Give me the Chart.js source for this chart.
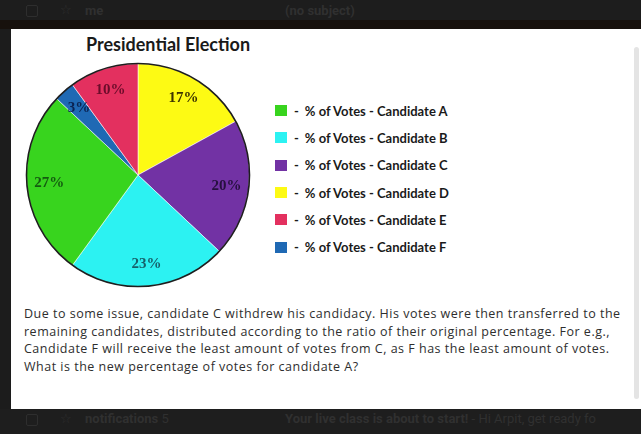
<!DOCTYPE html>
<html>
<head>
<meta charset="utf-8">
<script src="https://cdn.jsdelivr.net/npm/chart.js@4.4.1/dist/chart.umd.min.js"></script>
<style>
  html, body { margin: 0; padding: 0; }
  body { width: 641px; height: 434px; background: #1c1c1c; position: relative; overflow: hidden; font-family: "Open Sans", sans-serif; }
  .topbar { position: absolute; left: 0; top: 0; width: 641px; height: 20px; background: #1d1d1d; }
  .strip { position: absolute; left: 0; top: 20px; width: 641px; height: 9px; background: #17110d; }
  .bottombar { position: absolute; left: 0; top: 409px; width: 641px; height: 25px; background: #1e1e1e; }
  .faint { position: absolute; font-family: Roboto, sans-serif; font-weight: bold; font-size: 13px; color: #303030; white-space: nowrap; }
  .chk { position: absolute; width: 10px; height: 10px; border: 1.5px solid #2e2e2e; border-radius: 2px; }
  .card { position: absolute; left: 11px; top: 29px; width: 630px; height: 380px; background: #fff; }
  .scroll { position: absolute; left: 634px; top: 47px; width: 5px; height: 352px; background: #e4e4e4; border-radius: 3px; }
  .title { position: absolute; left: 86px; top: 33px; font-family: Lato, sans-serif; font-weight: bold; font-size: 18px; color: #1a1a1a; white-space: nowrap; }
  #wrap { position: absolute; left: 25px; top: 62px; width: 226px; height: 226px; }
  #legend { position: absolute; left: 275px; top: 97px; }
  .item { height: 27.3px; display: flex; align-items: center; font-family: Lato, sans-serif; font-weight: bold; font-size: 13px; color: #1a1a1a; white-space: nowrap; }
  .box { width: 12px; height: 11px; margin-right: 7px; }
  .dash { margin-right: 6px; }
  .para { position: absolute; left: 24px; top: 305px; font-size: 12.5px; line-height: 17.5px; color: #2e2e2e; white-space: nowrap; letter-spacing: 0.5px; }
</style>
</head>
<body>
<div class="topbar"></div>
<div class="chk" style="left:26px;top:5px"></div>
<div class="faint" style="left:60px;top:2px;font-weight:normal">☆</div>
<div class="faint" style="left:85px;top:3px">me</div>
<div class="faint" style="left:285px;top:3px">(no subject)</div>
<div class="strip"></div>
<div class="card"></div>
<div class="scroll"></div>
<div class="title">Presidential Election</div>
<div id="wrap"><canvas id="myChart"></canvas></div>
<div id="legend"></div>
<div class="para" id="para"></div>
<div class="bottombar"></div>
<div class="chk" style="left:26px;top:414px"></div>
<div class="faint" style="left:60px;top:411px;font-weight:normal">☆</div>
<div class="faint" style="left:85px;top:411px">notifications <span style="font-weight:normal">5</span></div>
<div class="faint" style="left:285px;top:411px">Your live class is about to start! <span style="font-weight:normal">- Hi Arpit, get ready fo</span></div>
<script>
// pie order, clockwise from the top
const candidates = ["Candidate D", "Candidate C", "Candidate B", "Candidate A", "Candidate F", "Candidate E"];
const votes = [17, 20, 23, 27, 3, 10];
const sliceColors = ["#fdfa14", "#7232a4", "#2cf2f2", "#38d41e", "#1f69b4", "#e3305f"];
const labelColors = ["#3b3300", "#26103f", "#17606a", "#145a10", "#0b2352", "#6b0c2a"];

const legendPrefix = "% of Votes - ";
const paraLines = [
  "Due to some issue, candidate C withdrew his candidacy. His votes were then transferred to the",
  "remaining candidates, distributed according to the ratio of their original percentage. For e.g.,",
  "Candidate F will receive the least amount of votes from C, as F has the least amount of votes.",
  "What is the new percentage of votes for candidate A?"
];

document.getElementById("para").innerHTML = paraLines.join("<br>");

// legend A..F
const legend = document.getElementById("legend");
candidates
  .map((c, i) => ({ name: c, color: sliceColors[i] }))
  .sort((a, b) => a.name.localeCompare(b.name))
  .forEach((el) => {
    const row = document.createElement("div");
    row.className = "item";
    const box = document.createElement("span");
    box.className = "box";
    box.style.background = el.color;
    const dash = document.createElement("span");
    dash.className = "dash";
    dash.innerText = "-";
    const txt = document.createElement("span");
    txt.innerText = legendPrefix + el.name;
    row.append(box, dash, txt);
    legend.append(row);
  });

const pieLabels = {
  id: "pieLabels",
  afterDatasetsDraw(chart) {
    const ctx = chart.ctx;
    const meta = chart.getDatasetMeta(0);
    ctx.save();
    // outer dark rim
    const first = meta.data[0];
    ctx.beginPath();
    ctx.arc(first.x, first.y, first.outerRadius, 0, Math.PI * 2);
    ctx.strokeStyle = "#1e1e1e";
    ctx.lineWidth = 1.6;
    ctx.stroke();
    ctx.font = "bold 15px 'Liberation Serif', 'DejaVu Serif', serif";
    ctx.textAlign = "center";
    ctx.textBaseline = "middle";
    meta.data.forEach((arc, i) => {
      const mid = (arc.startAngle + arc.endAngle) / 2;
      const r = arc.outerRadius * 0.8;
      ctx.fillStyle = labelColors[i];
      ctx.fillText(votes[i] + "%", arc.x + Math.cos(mid) * r, arc.y + Math.sin(mid) * r);
    });
    ctx.restore();
  }
};

new Chart(document.getElementById("myChart"), {
  type: "pie",
  data: {
    labels: candidates,
    datasets: [{
      data: votes,
      backgroundColor: sliceColors,
      borderColor: "rgba(255,255,255,0.55)",
      borderWidth: 1
    }]
  },
  options: {
    responsive: true,
    maintainAspectRatio: false,
    animation: false,
    layout: { padding: 1 },
    plugins: {
      legend: { display: false },
      tooltip: { enabled: false },
      title: { display: false }
    }
  },
  plugins: [pieLabels]
});
</script>
</body>
</html>
